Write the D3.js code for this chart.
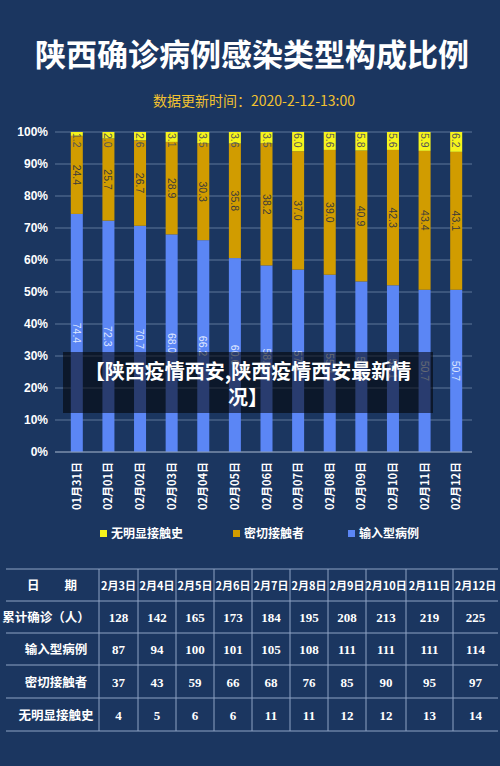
<!DOCTYPE html><html><head><meta charset="utf-8"><script src="https://cdn.jsdelivr.net/npm/d3@7"></script>
<style>body{margin:0;background:#1b3660;}svg{display:block;font-family:"Noto Sans CJK SC",sans-serif}</style></head><body><svg width="500" height="766"></svg>
<script>
const dates=["01月31日","02月01日","02月02日","02月03日","02月04日","02月05日","02月06日","02月07日","02月08日","02月09日","02月10日","02月11日","02月12日"];
const imported=[74.4,72.3,70.7,68.0,66.2,60.6,58.3,57.0,55.4,53.3,52.1,50.7,50.7];
const contact=[24.4,25.7,26.7,28.9,30.3,35.8,38.2,37.0,39.0,40.9,42.3,43.4,43.1];
const unknown=[1.2,2.0,2.6,3.1,3.5,3.6,3.5,6.0,5.6,5.8,5.6,5.9,6.2];
const yTicks=[0,10,20,30,40,50,60,70,80,90,100];
const tableDates=["2月3日","2月4日","2月5日","2月6日","2月7日","2月8日","2月9日","2月10日","2月11日","2月12日"];
const rowNames=["累计确诊（人）","输入型病例","密切接触者","无明显接触史"];
const total=[128,142,165,173,184,195,208,213,219,225];
const impN=[87,94,100,101,105,108,111,111,111,114];
const conN=[37,43,59,66,68,76,85,90,95,97];
const unkN=[4,5,6,6,11,11,12,12,13,14];
const svg=d3.select("svg");
svg.append("rect").attr("width",500).attr("height",766).attr("fill","#1b3660");
svg.append("text").attr("x",252).attr("y",66).attr("text-anchor","middle").attr("fill","#fff").attr("font-size",31).attr("font-weight","bold").text("陕西确诊病例感染类型构成比例");
svg.append("text").attr("x",254).attr("y",106).attr("text-anchor","middle").attr("fill","#f2c230").attr("font-size",14).text("数据更新时间：2020-2-12-13:00");
const x=d3.scaleBand().domain(dates).range([61,472]).paddingInner(0.62).paddingOuter(0.31);
const y=d3.scaleLinear().domain([0,100]).range([452,132]);
const g=svg.append("g");
g.selectAll(".grid").data(yTicks).join("line").attr("x1",55).attr("x2",472).attr("y1",d=>y(d)).attr("y2",d=>y(d)).attr("stroke","#5f7799").attr("stroke-width",1);
const ya=svg.append("g").attr("transform","translate(55,0)").call(d3.axisLeft(y).tickValues(yTicks).tickFormat(d=>d+"%").tickSize(0).tickPadding(7));
ya.select(".domain").remove();ya.selectAll("text").attr("fill","#fff").attr("font-size",12).attr("font-weight","bold").attr("font-family","Liberation Sans");
const series=[{v:imported,c:"#5b86f5",lc:"#dfe6ff",base:d=>0,mid:true},{v:contact,c:"#d19c00",lc:"#3a3a3a",base:i=>imported[i],mid:true},{v:unknown,c:"#f6f41c",lc:"#555",base:i=>imported[i]+contact[i],mid:false}];
series.forEach(s=>{
 g.selectAll(null).data(dates).join("rect").attr("x",d=>x(d)).attr("width",x.bandwidth()).attr("y",(d,i)=>y(s.base(i)+s.v[i])).attr("height",(d,i)=>y(s.base(i))-y(s.base(i)+s.v[i])).attr("fill",s.c);
 g.selectAll(null).data(dates).join("text").attr("transform",(d,i)=>{const top=y(s.base(i)+s.v[i]);const yy=s.mid?(top+y(s.base(i)))/2:top+1;return `translate(${x(d)+x.bandwidth()/2-4},${yy}) rotate(90)`}).attr("text-anchor",s.mid?"middle":"start").attr("fill",s.lc).attr("font-size",10.5).attr("font-family","Liberation Sans").text((d,i)=>s.v[i].toFixed(1));
});
svg.append("line").attr("x1",55).attr("x2",472).attr("y1",452).attr("y2",452).attr("stroke","#8a9bb5");
svg.selectAll(".xl").data(dates).join("text").attr("transform",d=>`translate(${x(d)+x.bandwidth()/2+4},462) rotate(-90)`).attr("text-anchor","end").attr("fill","#fff").attr("font-size",11).attr("font-weight","bold").text(d=>d);
const leg=[["无明显接触史","#f6f41c",100],["密切接触者","#d19c00",233],["输入型病例","#5b86f5",348]];
leg.forEach(l=>{svg.append("rect").attr("x",l[2]).attr("y",530).attr("width",7).attr("height",7).attr("fill",l[1]);svg.append("text").attr("x",l[2]+11).attr("y",538).attr("fill","#fff").attr("font-size",12).attr("font-weight","bold").text(l[0]);});
svg.append("rect").attr("x",63).attr("y",352).attr("width",370).attr("height",61).attr("fill","#000").attr("opacity",0.55);
svg.append("text").attr("x",248).attr("y",379).attr("text-anchor","middle").attr("fill","#fff").attr("font-size",20).attr("font-weight","bold").text("【陕西疫情西安,陕西疫情西安最新情");
svg.append("text").attr("x",248).attr("y",405).attr("text-anchor","middle").attr("fill","#fff").attr("font-size",20).attr("font-weight","bold").text("况】");
const colX=[6,99,138,176,214,252,290,328,366,406,453,498];
const rowY=[569,601,633,665,698,731];
const t=svg.append("g");
rowY.forEach(r=>t.append("line").attr("x1",6).attr("x2",498).attr("y1",r).attr("y2",r).attr("stroke","#8fa3c4"));
colX.slice(1,-1).forEach(c=>t.append("line").attr("x1",c).attr("x2",c).attr("y1",569).attr("y2",731).attr("stroke","#8fa3c4"));
const rows=[tableDates,total,impN,conN,unkN];
const labels=["日　　期",...rowNames];
labels.forEach((l,ri)=>{const cy=(rowY[ri]+rowY[ri+1])/2+5;
 t.append("text").attr("x",ri==0?52:(ri==1?46:56)).attr("y",cy).attr("text-anchor","middle").attr("fill","#fff").attr("font-size",12.5).attr("font-weight","bold").text(l);
 rows[ri].forEach((v,ci)=>t.append("text").attr("x",(colX[ci+1]+colX[ci+2])/2).attr("y",cy).attr("text-anchor","middle").attr("fill","#fff").attr("font-size",ri==0?11:13).attr("font-weight","bold").attr("font-family",ri==0?"Noto Sans CJK SC":"Liberation Serif").text(v));
});
</script></body></html>
